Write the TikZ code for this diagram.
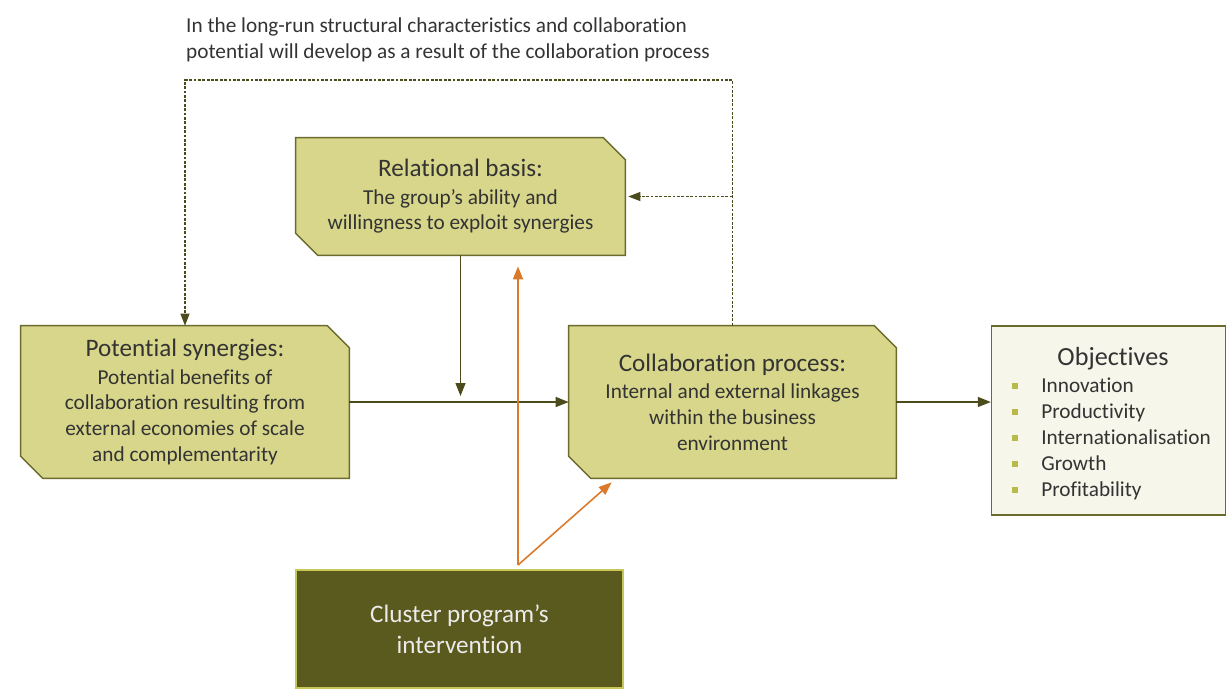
\documentclass[tikz,border=0pt]{standalone}
\usepackage{fontspec}
\setmainfont{Carlito}[Ligatures={TeX,NoCommon}]
\usetikzlibrary{arrows.meta,backgrounds}

\definecolor{boxfill}{HTML}{D7D68B}
\definecolor{boxline}{HTML}{6B6B2E}
\definecolor{arrowcol}{HTML}{4B4B1C}
\definecolor{orangecol}{HTML}{DC7A2C}
\definecolor{darkbox}{HTML}{5A5A1E}
\definecolor{darkline}{HTML}{C8C85A}
\definecolor{objfill}{HTML}{F6F6EA}
\definecolor{bulletcol}{HTML}{B9B94A}
\definecolor{textcol}{HTML}{333333}

\newcommand{\bodysize}{\fontsize{12.1}{14.6}\selectfont}
\newcommand{\headsize}{\fontsize{14.3}{16}\selectfont}

% box with the top right and bottom left corners cut off
\newcommand{\cutbox}[1]{%
  \begin{scope}[on background layer]
  \filldraw[fill=boxfill,draw=boxline,line width=0.8pt]
    (#1.north west) -- ([xshift=-0.44cm]#1.north east) -- ([yshift=-0.44cm]#1.north east)
    -- (#1.south east) -- ([xshift=0.44cm]#1.south west) -- ([yshift=0.44cm]#1.south west) -- cycle;
  \end{scope}}

\begin{document}
\begin{tikzpicture}[x=0.02cm,y=-0.02cm,
  stage/.style={inner sep=0pt,align=center,text=textcol,font=\bodysize},
  flow/.style={draw=arrowcol,line width=0.8pt,-{Triangle[length=2.6mm,width=2mm]}},
  dashflow/.style={draw=arrowcol,line width=0.6pt,dash pattern=on 1.6pt off 0.9pt,
    -{Triangle[length=2.4mm,width=1.8mm]}},
  push/.style={draw=orangecol,line width=0.9pt,-{Triangle[length=2.6mm,width=2mm]}}]
\useasboundingbox (0,0) rectangle (1226,691);

% note above the loop
\node[anchor=north west,align=left,text=textcol,font=\bodysize] (note) at (180,12)
  {In the long-run structural characteristics and collaboration\\
   potential will develop as a result of the collaboration process};

% the three stages
\node[stage,minimum width=6.58cm,minimum height=2.34cm] (rel) at (460.5,196.5)
  {{\headsize Relational basis:}\\[1pt]
   The group’s ability and\\ willingness to exploit synergies};
\cutbox{rel}
\node[stage,minimum width=6.56cm,minimum height=3.04cm] (pot) at (185,402)
  {{\headsize Potential synergies:}\\[1pt]
   Potential benefits of\\ collaboration resulting from\\
   external economies of scale\\ and complementarity};
\cutbox{pot}
\node[stage,minimum width=6.54cm,minimum height=3.04cm] (col) at (732.5,402)
  {{\headsize Collaboration process:}\\[1pt]
   Internal and external linkages\\ within the business\\ environment};
\cutbox{col}

% objectives
\node[draw=boxline,fill=objfill,line width=0.8pt,minimum width=4.68cm,minimum height=3.78cm,
  inner sep=0pt] (obj) at (1108.5,420.5) {};
\node[text=black!80,font=\fontsize{14.9}{17}\selectfont] (objtitle) at (1113,359) {Objectives};
\foreach \t [count=\i] in {Innovation,Productivity,Internationalisation,Growth,Profitability}{
  \fill[bulletcol] (1012,{383+(\i-1)*26}) rectangle ++(6,6);
  \node[anchor=base west,inner sep=0pt,text=textcol,font=\bodysize] (obj\i) at (1041,{392+(\i-1)*26}) {\t};
}

% cluster program
\node[fill=darkbox,draw=darkline,line width=0.8pt,minimum width=6.54cm,minimum height=2.36cm,
  align=center,text=black!8,font=\fontsize{14.3}{15.5}\selectfont] (clu) at (459.5,629)
  {Cluster program’s\\[2pt] intervention};

% connectors
\draw[flow] (pot.east) -- (col.west);
\draw[flow] (rel.south) -- ([yshift=0.12cm]rel.south |- pot.east);
\draw[flow] (col.east) -- (col.east -| obj.west);

\coordinate (loop) at (732.5,80);
\draw[dashflow] (col.north) -- (loop) -| (pot.north);
\draw[dashflow] (col.north |- rel.east) -- ([xshift=0.06cm]rel.east);

\coordinate (src) at (518,565);
\draw[push] (src) -- ([yshift=-0.22cm]src |- rel.south);
\draw[push] (src) -- ([xshift=0.86cm,yshift=-0.08cm]col.south west);
\end{tikzpicture}
\end{document}
